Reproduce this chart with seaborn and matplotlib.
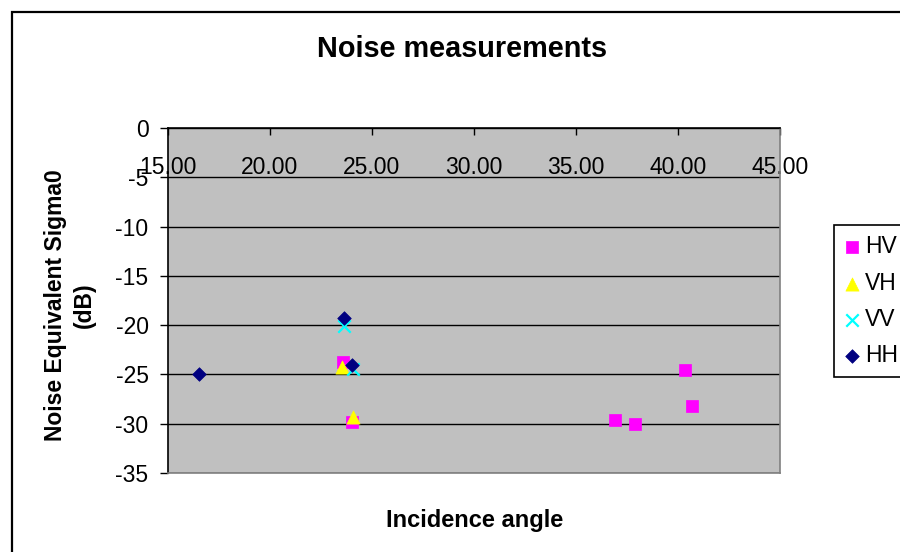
import matplotlib
matplotlib.use("Agg")
import matplotlib.pyplot as plt
import seaborn as sns
import pandas as pd
from matplotlib.patches import Rectangle

# ---- data ----
hv_x = [23.60, 24.04, 36.93, 37.89, 40.32, 40.68]
hv_y = [-23.7, -29.8, -29.6, -30.05, -24.5, -28.2]
vh_x = [23.55, 24.09]
vh_y = [-24.2, -29.3]
vv_x = [23.63, 24.09]
vv_y = [-20.1, -24.4]
hh_x = [16.52, 23.65, 24.00]
hh_y = [-25.0, -19.3, -24.0]

series_names = ["HV", "VH", "VV", "HH"]

x_ticks = [15, 20, 25, 30, 35, 40, 45]
x_tick_labels = ["15.00", "20.00", "25.00", "30.00", "35.00", "40.00", "45.00"]
y_ticks = [0, -5, -10, -15, -20, -25, -30, -35]
y_tick_labels = ["0", "-5", "-10", "-15", "-20", "-25", "-30", "-35"]

title = "Noise measurements"
x_label = "Incidence angle"
y_label = "Noise Equivalent Sigma0\n(dB)"

# ---- styling ----
sns.set_theme(style="white")
plt.rcParams['font.family'] = ['Liberation Sans', 'DejaVu Sans']
plt.rcParams['text.color'] = 'black'
plt.rcParams['axes.labelcolor'] = 'black'

W, H = 900, 552
fig = plt.figure(figsize=(W / 100, H / 100), dpi=100)
fig.patch.set_facecolor("white")
ax = fig.add_axes([168 / W, 79 / H, 612 / W, 345 / H])
ax.set_facecolor("#C0C0C0")

styles = [
    (hv_x, hv_y, "#FF00FF", "s", 64, 0.5),
    (vh_x, vh_y, "#FFFF00", "^", 90, 0.5),
    (vv_x, vv_y, "#00FFFF", "x", 80, 1.6),
    (hh_x, hh_y, "#000080", "D", 48, 0.5),
]
for name, (xs, ys, col, mk, sz, lw) in zip(series_names, styles):
    df = pd.DataFrame({"x": xs, "y": ys})
    kw = dict(color=col, marker=mk, s=sz, linewidth=lw)
    if mk != "x":
        kw["edgecolor"] = col
    sns.scatterplot(data=df, x="x", y="y", label=name, ax=ax, zorder=3, **kw)

ax.set_xlim(15, 45)
ax.set_ylim(-35, 0)
ax.set_xticks(x_ticks)
ax.set_xticklabels(x_tick_labels)
ax.set_yticks(y_ticks)
ax.set_yticklabels(y_tick_labels)
ax.set_xlabel("")
ax.set_ylabel("")

ax.yaxis.grid(True, color="black", linewidth=1.0)
ax.xaxis.grid(False)
ax.set_axisbelow(True)

ax.tick_params(axis="x", which="both", direction="in", length=5, width=1, color="black",
               labelsize=16.5, labelcolor="black", pad=-37,
               top=True, bottom=False, labeltop=True, labelbottom=False)
ax.tick_params(axis="y", direction="out", length=6, width=1, color="black",
               labelsize=16.5, labelcolor="black", pad=8, left=True)

for side, col in [("top", "black"), ("left", "black"), ("right", "#808080"), ("bottom", "#808080")]:
    ax.spines[side].set_visible(True)
    ax.spines[side].set_color(col)
    ax.spines[side].set_linewidth(1.2)

handles, labels = ax.get_legend_handles_labels()
leg = ax.legend(handles, labels, loc="upper left",
                bbox_to_anchor=(834 / W, 1 - 225 / H), bbox_transform=fig.transFigure,
                frameon=True, fancybox=False, edgecolor="black", framealpha=1,
                fontsize=16.5, borderpad=0.45, handlelength=0.7, handletextpad=0.2,
                labelspacing=0.58, borderaxespad=0, labelcolor="black")
leg.get_frame().set_linewidth(1.2)
for h, st in zip(leg.legend_handles, styles):
    h.set_sizes([st[4]])

fig.text(462 / W, 1 - 57 / H, title, ha="center", va="baseline",
         fontsize=20.8, fontweight="bold", color="black")
fig.text(475 / W, 1 - 527 / H, x_label, ha="center", va="baseline",
         fontsize=17, fontweight="bold", color="black")
fig.text(70 / W, 1 - 305 / H, y_label, rotation=90, ha="center", va="center",
         fontsize=16.5, fontweight="bold", linespacing=1.35, multialignment="center",
         color="black")

fig.patches.append(Rectangle((12 / W, -0.1), 1.0, (1 - 12 / H) + 0.1,
                             transform=fig.transFigure, fill=False,
                             edgecolor="black", linewidth=1.6, zorder=0))

fig.savefig("out.png", dpi=100)
